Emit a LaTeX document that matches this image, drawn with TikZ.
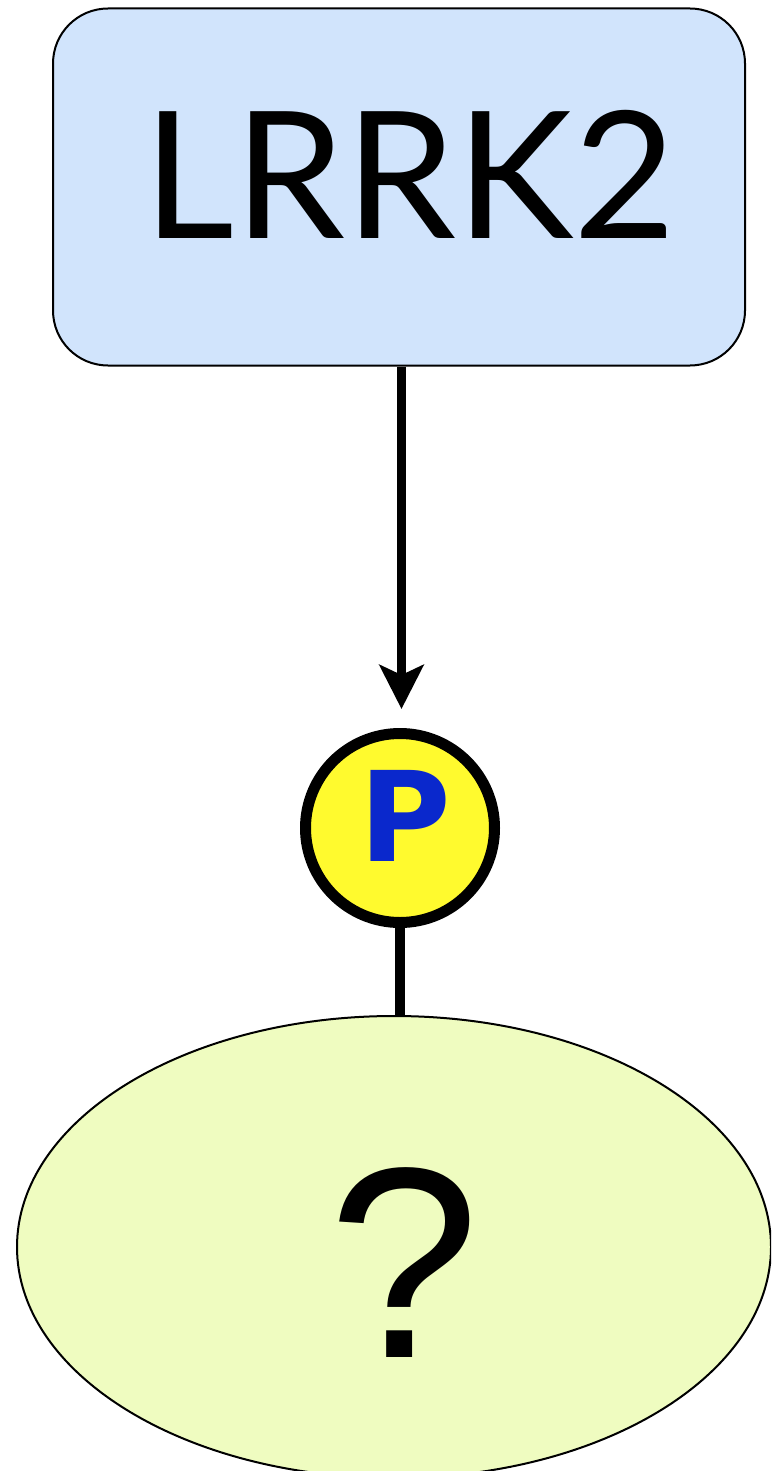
\documentclass[tikz,border=0pt]{standalone}
\usepackage{fontspec}
\setmainfont{Lato}
\newfontfamily\pfont{DejaVu Sans}
\newfontfamily\qfont{Liberation Sans}
\usetikzlibrary{arrows.meta,shapes.geometric}
\definecolor{boxblue}{HTML}{D1E4FC}
\definecolor{pyellow}{HTML}{FFFA2E}
\definecolor{pblue}{HTML}{0A28CC}
\definecolor{ellgreen}{HTML}{EFFCC0}
\tikzset{
  protbox/.style={draw=black, line width=2pt, fill=boxblue, rounded corners=55pt, minimum width=692pt, minimum height=357pt, inner sep=0pt},
  phospho/.style={circle, draw=black, line width=11pt, fill=pyellow, minimum size=189pt, inner sep=0pt},
  target/.style={ellipse, draw=black, line width=2pt, fill=ellgreen, minimum width=754pt, minimum height=462pt, inner sep=0pt},
  bigtext/.style={anchor=base, inner sep=0pt},
  activation/.style={line width=9pt, -{Stealth[length=44pt, width=44pt, inset=10pt]}},
  bond/.style={line width=10pt}
}
\begin{document}
\begin{tikzpicture}[x=1pt,y=-1pt]
\clip (0,0) rectangle (771,1471);
\fill[white] (0,0) rectangle (771,1471);
\node[protbox] (lrrk) at (399,187) {};
\node[bigtext, font=\fontsize{177}{177}\selectfont] (lrrklabel) at (409.5,239) {LRRK2};
\coordinate (tip) at (401.5,709);
\node[phospho] (p) at (400,828) {};
\node[bigtext, text=pblue, font=\pfont\bfseries\fontsize{125}{125}\selectfont] (plabel) at (405.5,861) {P};
\node[target] (q) at (394,1247) {};
\node[bigtext, font=\qfont\fontsize{272}{272}\selectfont] (qlabel) at (404.5,1357) {?};
\draw[activation] (lrrk.south -| tip) -- (tip);
\draw[bond] (p.south) -- (p.south |- q.north);
\end{tikzpicture}
\end{document}
